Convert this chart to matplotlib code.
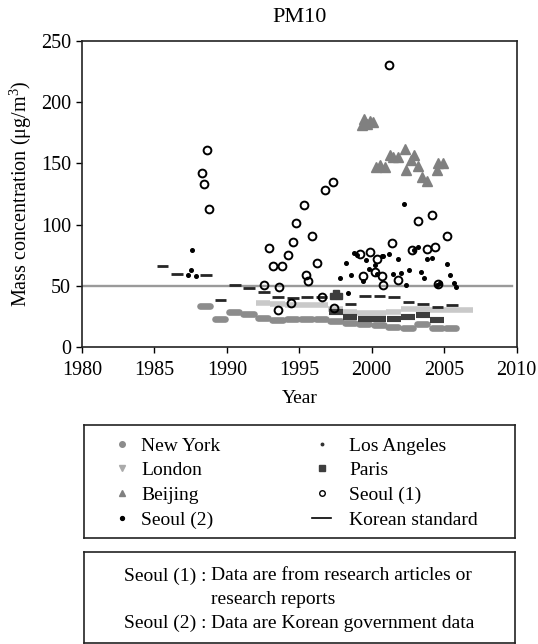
import numpy as np
import matplotlib
matplotlib.use("Agg")
import matplotlib.pyplot as plt
from matplotlib.lines import Line2D

plt.rcParams['font.family'] = ['Liberation Serif', 'DejaVu Serif']
plt.rcParams['mathtext.fontset'] = 'custom'
plt.rcParams['mathtext.rm'] = 'Liberation Serif'

# ---- annual values (drawn as short bars over each year) ----
ny_year = np.array([1988, 1989, 1990, 1991, 1992, 1993, 1994, 1995, 1996, 1997,
                    1998, 1999, 2000, 2001, 2002, 2003, 2004, 2005])
ny_val = np.array([33.5, 23, 29, 27, 24, 22, 22.5, 22.5, 23, 21.5,
                   20, 19, 18, 16, 15.5, 18.5, 15.5, 15.5])

london_year = np.array([1992, 1993, 1994, 1995, 1996, 1997, 1998, 1999, 2000,
                        2001, 2002, 2003, 2004, 2005, 2006])
london_val = np.array([36, 35, 34, 34, 34, 31, 29, 28, 28, 29, 31, 31, 30, 30, 30])

paris_year = np.array([1997, 1998, 1999, 2000, 2001, 2002, 2003, 2004])
paris_val = np.array([29, 24.5, 23, 22.5, 23, 24.5, 26.5, 22])
paris_pk_x = [1997.35, 1997.55, 1997.75]
paris_pk_y = [42, 44, 42]

la_year = np.array([1985, 1986, 1988, 1989, 1990, 1991, 1992, 1993, 1994, 1995,
                    1996, 1998, 1999, 2000, 2001, 2002, 2003, 2004, 2005])
la_val = np.array([66, 60, 58.5, 38.5, 51, 48, 45, 41, 40, 41,
                   41, 35, 41.5, 41.5, 41, 37, 35, 33, 34])

# ---- individual observations ----
beijing_x = [1999.3, 1999.5, 1999.7, 1999.9, 2000.1, 2000.3, 2000.6, 2000.9, 2001.3,
             2001.5, 2001.8, 2002.3, 2002.4, 2002.7, 2002.9, 2003.2, 2003.5, 2003.8,
             2004.5, 2004.6, 2004.9]
beijing_y = [181, 186, 182, 185, 184, 147, 149, 147, 157,
             155, 155, 162, 145, 153, 157, 148, 139, 136,
             145, 150, 150]

seoul1_x = [1988.3, 1988.4, 1988.6, 1988.8, 1992.6, 1992.9, 1993.2, 1993.5, 1993.6,
            1993.8, 1994.2, 1994.4, 1994.6, 1994.8, 1995.3, 1995.5, 1995.6, 1995.9,
            1996.2, 1996.6, 1996.8, 1997.3, 1997.4, 1999.2, 1999.4, 1999.9, 2000.2,
            2000.4, 2000.7, 2000.8, 2001.2, 2001.4, 2001.8, 2002.8, 2003.2, 2003.8,
            2004.2, 2004.4, 2004.6, 2005.2]
seoul1_y = [142, 133, 161, 113, 51, 81, 66, 30, 49,
            66, 75, 36, 86, 101, 116, 59, 54, 91,
            69, 40.5, 128, 135, 32, 76, 58, 78, 61,
            72, 58, 51, 230, 85, 55, 79, 103, 80,
            108, 82, 51.5, 91]

seoul2_x = [1987.3, 1987.5, 1987.6, 1987.9, 1997.8, 1998.2, 1998.4, 1998.6, 1998.8,
            1999.0, 1999.4, 1999.6, 1999.8, 2000.2, 2000.4, 2000.7, 2000.8, 2001.2,
            2001.5, 2001.8, 2002.0, 2002.2, 2002.4, 2002.6, 2002.9, 2003.2, 2003.4,
            2003.6, 2003.8, 2004.2, 2004.5, 2004.7, 2005.2, 2005.4, 2005.7, 2005.8]
seoul2_y = [59, 63, 79, 58, 56, 69, 44, 59, 77,
            75, 54, 71, 64, 67, 60, 74, 74, 76,
            60, 72, 60.7, 117, 51, 63, 79, 82, 61,
            56, 71.6, 73, 51, 52.5, 68, 59, 52.5, 49]

korean_std = 50

W, H = 538, 644
fig = plt.figure(figsize=(W / 100, H / 100), dpi=100)
ax = fig.add_axes([82 / W, 1 - 347 / H, 434.5 / W, 306 / H])

ax.axhline(korean_std, xmax=0.99, color='#9a9a9a', lw=1.7, zorder=1)

ax.hlines(ny_val, ny_year + 0.15, ny_year + 0.85, color='#8c8c8c', lw=4.8,
          capstyle='round', zorder=2)
ax.hlines(london_val, london_year, london_year + 1, color='#c9c9c9', lw=4.0, zorder=2.5)
ax.hlines(paris_val, paris_year + 0.05, paris_year + 1, color='#3e3e3e', lw=4.4, zorder=3)
ax.plot(paris_pk_x, paris_pk_y, 's', color='#3e3e3e', ms=4.5, zorder=3)
ax.hlines(la_val, la_year + 0.15, la_year + 0.95, color='#262626', lw=2.0, zorder=4)

ax.plot(seoul2_x, seoul2_y, 'o', color='black', ms=2.6, zorder=5, ls='none')
ax.plot(beijing_x, beijing_y, '^', color='#808080', ms=6.5, zorder=5, ls='none')
ax.plot(seoul1_x, seoul1_y, 'o', mfc='none', mec='black', mew=1.4, ms=5.6, zorder=6, ls='none')

ax.set_xlim(1980, 2010)
ax.set_ylim(0, 250)
ax.set_xticks(np.arange(1980, 2011, 5))
ax.set_yticks(np.arange(0, 251, 50))
ax.tick_params(direction='out', length=4, width=1, labelsize=14.5, top=False, right=False)
ax.tick_params(axis='x', pad=6)
ax.tick_params(axis='y', pad=4)
for s in ax.spines.values():
    s.set_linewidth(1.2)
    s.set_color('#222222')
ax.set_title('PM10', fontsize=16, pad=14)
ax.set_xlabel('Year', fontsize=14, labelpad=7)
ax.set_ylabel(r'Mass concentration ($\mathregular{\mu}$g/m$^3$)', fontsize=14.5, labelpad=5)

# ---- legend box ----
lax = fig.add_axes([84 / W, 1 - 538 / H, 431 / W, 113 / H])
lax.set_xticks([])
lax.set_yticks([])
for s in lax.spines.values():
    s.set_linewidth(1.2)
    s.set_color('#222222')

h1 = [Line2D([], [], ls='none', marker='o', color='#8c8c8c', ms=4),
      Line2D([], [], ls='none', marker='v', color='#aaaaaa', ms=4.5),
      Line2D([], [], ls='none', marker='^', color='#808080', ms=4.5),
      Line2D([], [], ls='none', marker='o', color='black', ms=2.8)]
l1 = ['New York', 'London', 'Beijing', 'Seoul (2)']
h2 = [Line2D([], [], ls='none', marker='o', color='#333333', ms=1.8),
      Line2D([], [], ls='none', marker='s', color='#3e3e3e', ms=5),
      Line2D([], [], ls='none', marker='o', mfc='none', mec='black', mew=1, ms=4),
      Line2D([], [], color='black', lw=1.2)]
l2 = ['Los Angeles', 'Paris', 'Seoul (1)', 'Korean standard']

fig.legend(h1, l1, loc='upper left', bbox_to_anchor=(112 / W, 1 - 437 / H),
           frameon=False, fontsize=14, handlelength=1.0, handletextpad=0.5,
           labelspacing=0.36, borderpad=0, borderaxespad=0)
fig.legend(h2, l2, loc='upper left', bbox_to_anchor=(312 / W, 1 - 437 / H),
           frameon=False, fontsize=14, handlelength=1.0, handletextpad=0.9,
           labelspacing=0.36, borderpad=0, borderaxespad=0)

# ---- note box ----
nax = fig.add_axes([84 / W, 1 - 643 / H, 431 / W, 91 / H])
nax.set_xticks([])
nax.set_yticks([])
for s in nax.spines.values():
    s.set_linewidth(1.2)
    s.set_color('#222222')

notes = [('Seoul (1) :', 'Data are from research articles or', 576),
         ('', 'research reports', 600),
         ('Seoul (2) :', 'Data are Korean government data', 623)]
for lab, txt, yp in notes:
    if lab:
        fig.text(124 / W, 1 - yp / H, lab, fontsize=14, va='center', ha='left')
    fig.text(211 / W, 1 - yp / H, txt, fontsize=14, va='center', ha='left')

fig.savefig('out.png', dpi=100)
